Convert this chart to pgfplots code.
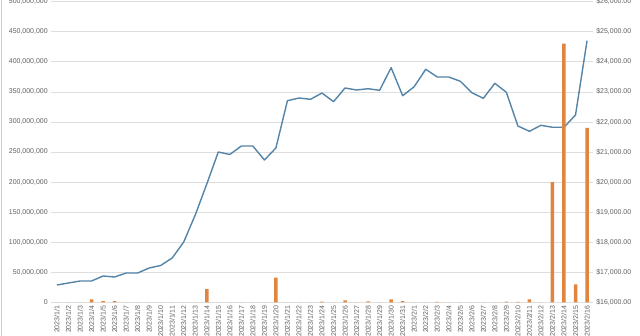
\documentclass[border=0pt]{standalone}
\usepackage{pgfplots}
\pgfplotsset{compat=1.18}
\usepackage{pgfplotstable}
\usepackage{fontspec}
\setmainfont{Liberation Sans}
\definecolor{linec}{RGB}{84,132,168}
\definecolor{barc}{RGB}{224,132,62}
\definecolor{gridc}{RGB}{222,222,222}
\definecolor{labc}{RGB}{95,95,95}

\pgfplotstableread{
i bar price
0 0 16575
1 0 16642
2 0 16708
3 5000000 16708
4 2000000 16875
5 2000000 16841
6 0 16974
7 0 16974
8 0 17141
9 0 17224
10 0 17473
11 0 18005
12 0 18903
13 22000000 19934
14 0 20998
15 0 20915
16 0 21198
17 0 21198
18 0 20732
19 41000000 21131
20 0 22704
21 0 22794
22 0 22751
23 1000000 22960
24 0 22671
25 3000000 23127
26 0 23060
27 1500000 23103
28 0 23050
29 5000000 23802
30 2000000 22871
31 0 23170
32 0 23749
33 500000 23493
34 0 23493
35 0 23350
36 0 22970
37 0 22784
38 0 23283
39 1000000 22984
40 500000 21863
41 5000000 21687
42 0 21886
43 200000000 21820
44 430000000 21820
45 30000000 22229
46 290000000 24700
}\datatable

\pgfplotsset{
 base/.style={
  scale only axis, width=541.6bp, height=300.7bp,
  at={(0,0)}, anchor=south west,
  xmin=-0.5, xmax=46.5,
  axis line style={draw=none},
  major tick length=0pt,
  tick label style={font=\fontsize{7}{8}\selectfont, text=labc},
  /pgf/number format/assume math mode=true,
  scaled y ticks=false,
 }
}

\begin{document}
\begin{tikzpicture}
\begin{axis}[base,
  axis y line*=right,
  ymin=16000, ymax=26000,
  ytick={16000,17000,18000,19000,20000,21000,22000,23000,24000,25000,26000},
  ymajorgrids, grid style={gridc, line width=0.6bp},
  yticklabel={\$\pgfmathprintnumber[fixed,fixed zerofill,precision=2,1000 sep={,}]{\tick}},
  yticklabel style={anchor=west},
  xtick={0,...,46},
  xticklabels={2023/1/1,2023/1/2,2023/1/3,2023/1/4,2023/1/5,2023/1/6,2023/1/7,2023/1/8,2023/1/9,2023/1/10,2023/1/11,2023/1/12,2023/1/13,2023/1/14,2023/1/15,2023/1/16,2023/1/17,2023/1/18,2023/1/19,2023/1/20,2023/1/21,2023/1/22,2023/1/23,2023/1/24,2023/1/25,2023/1/26,2023/1/27,2023/1/28,2023/1/29,2023/1/30,2023/1/31,2023/2/1,2023/2/2,2023/2/3,2023/2/4,2023/2/5,2023/2/6,2023/2/7,2023/2/8,2023/2/9,2023/2/10,2023/2/11,2023/2/12,2023/2/13,2023/2/14,2023/2/15,2023/2/16},
  xticklabel style={rotate=90, anchor=east},
]
\addplot[linec, line width=1.4bp, no markers, line join=round] table[x=i, y=price]{\datatable};
\end{axis}
\begin{axis}[base,
  axis y line*=left,
  ymin=0, ymax=500000000,
  ytick={0,50000000,100000000,150000000,200000000,250000000,300000000,350000000,400000000,450000000,500000000},
  yticklabel={\pgfmathprintnumber[fixed,precision=0,1000 sep={,}]{\tick}},
  xtick=\empty,
  ybar, bar width=3.5bp,
]
\addplot[fill=barc, draw=none] table[x=i, y=bar]{\datatable};
\end{axis}
\draw[color={rgb,255:red,205;green,205;blue,205}, line width=0.8bp] (-50.2bp,-33.7bp) -- (-50.2bp,302.3bp);
\pgfresetboundingbox
\path[use as bounding box] (-51.2bp,-33.7bp) rectangle (588.8bp,302.3bp);
\end{tikzpicture}
\end{document}
